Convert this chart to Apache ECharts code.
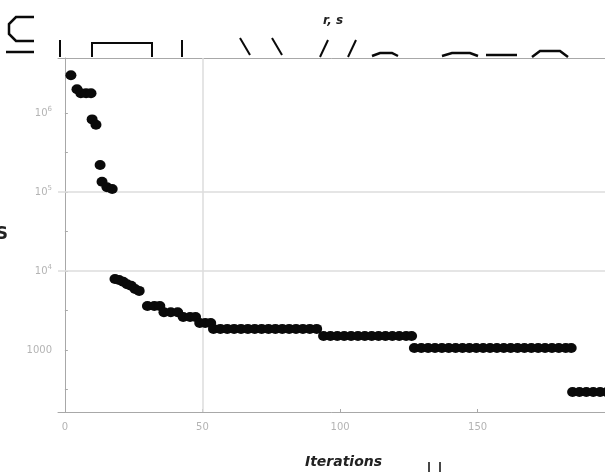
<!DOCTYPE html>
<html>
<head>
<meta charset="utf-8">
<script src="https://cdn.jsdelivr.net/npm/echarts@6/dist/echarts.min.js"></script>
<style>
  html, body { margin: 0; padding: 0; background: #fff; }
  #chart { width: 605px; height: 472px; }
</style>
</head>
<body>
<div id="chart"></div>
<script>
// early points (iteration, S)
const earlyIter = [2.2, 4.4, 5.8, 7.7, 9.5, 9.9, 11.3, 12.8, 13.5, 15.3, 17.2]
const earlyS = [3.0e6, 2.0e6, 1.78e6, 1.78e6, 1.78e6, 8.3e5, 7.1e5, 2.2e5, 1.35e5, 1.15e5, 1.09e5]

// middle staircase
const midIter = [18.2, 19.7, 21.2, 22.6, 24.1, 25.5, 27.0, 30, 32.5, 34.5, 36, 38.5, 41, 43, 45.5, 47.5, 49, 51, 53]
const midS = [7900, 7700, 7300, 6800, 6500, 5900, 5600, 3600, 3600, 3600, 3000, 3000, 3000, 2620, 2620, 2620, 2200, 2200, 2200]

// long flat runs
const plateauS = [1850, 1500, 1060, 294]
const plateauIter = [
  [54, 56.5, 59, 61.5, 64, 66.5, 69, 71.5, 74, 76.5, 79, 81.5, 84, 86.5, 89, 91.5],
  [94, 96.5, 99, 101.5, 104, 106.5, 109, 111.5, 114, 116.5, 119, 121.5, 124, 126],
  [127, 129.5, 132, 134.5, 137, 139.5, 142, 144.5, 147, 149.5, 152, 154.5, 157, 159.5, 162, 164.5, 167, 169.5, 172, 174.5, 177, 179.5, 182, 184],
  [184.5, 187, 189.5, 192, 194.5, 197, 199.5, 202]
]

const xTicks = [0, 50, 100, 150, 200]
const yLabelExp = [3, 4, 5, 6]
const yTickExp = [2.5, 3, 3.5, 4, 4.5, 5, 5.5, 6, 6.5]

let points = []
earlyIter.forEach((x, i) => points.push([x, Math.log10(earlyS[i])]))
midIter.forEach((x, i) => points.push([x, Math.log10(midS[i])]))
plateauIter.forEach((xs, k) => {
  xs.forEach(x => points.push([x, Math.log10(plateauS[k])]))
})

let myChart = echarts.init(document.getElementById('chart'))

const grey = '#a8a8a8'
const labelGrey = '#b4b4b4'
const ink = '#0a0a0a'

// bits of the figure above that show at the top of the scan
function stroke(pts, w) {
  return { type: 'polyline', shape: { points: pts }, style: { stroke: ink, lineWidth: w || 2, fill: null } }
}

let options = {
  animation: false,
  backgroundColor: '#fff',
  grid: {
    left: 58,
    top: 58,
    width: 571,
    height: 354,
    outerBoundsMode: 'none',
    containLabel: false,
    show: false
  },
  xAxis: [
    {
      type: 'value',
      min: -2.5,
      max: 205,
      name: 'Iterations',
      nameLocation: 'middle',
      nameGap: 43,
      nameTextStyle: { fontFamily: 'DejaVu Sans', fontSize: 14, fontWeight: 'bold', fontStyle: 'italic', color: '#222' },
      axisLine: { lineStyle: { color: grey } },
      axisTick: { inside: true, length: 3, lineStyle: { color: grey }, customValues: xTicks },
      axisLabel: { customValues: xTicks, color: labelGrey, fontSize: 10, margin: 10, fontFamily: 'DejaVu Sans', hideOverlap: false },
      splitLine: { show: false }
    },
    {
      // top frame edge
      type: 'value',
      position: 'top',
      min: -2.5,
      max: 205,
      axisLine: { show: true, lineStyle: { color: grey } },
      axisTick: { show: false },
      axisLabel: { show: false },
      splitLine: { show: false }
    }
  ],
  yAxis: {
    type: 'value',
    min: 2.215,
    max: 6.696,
    name: 'S',
    nameLocation: 'middle',
    nameGap: 50,
    nameRotate: 0,
    nameTextStyle: { fontFamily: 'DejaVu Sans', fontSize: 17, fontWeight: 'bold', color: '#222' },
    axisLine: { show: true, lineStyle: { color: grey } },
    axisTick: { show: true, inside: true, length: 3, lineStyle: { color: grey }, customValues: yTickExp },
    axisLabel: {
      customValues: yLabelExp,
      color: labelGrey,
      fontSize: 10,
      margin: 6,
      fontFamily: 'DejaVu Sans',
      formatter: v => v === 3 ? '1000' : '10{sup|' + v + '}',
      rich: { sup: { fontSize: 7, color: labelGrey, padding: [0, 0, 7, 0] } }
    },
    splitLine: { show: false }
  },
  series: [
    {
      type: 'scatter',
      data: points,
      symbol: 'circle',
      symbolSize: [11, 10],
      itemStyle: { color: ink, opacity: 1 },
      silent: true,
      markLine: {
        silent: true,
        symbol: 'none',
        label: { show: false },
        lineStyle: { color: '#dcdcdc', type: 'solid', width: 1.5 },
        data: [{ xAxis: 50 }, { yAxis: 5 }, { yAxis: 4 }],
        z: 1
      }
    }
  ],
  graphic: [
    stroke([[34, 17], [16, 17], [9, 24], [9, 34], [16, 41], [34, 41]], 2.5),
    stroke([[6, 52], [34, 52]], 2.5),
    stroke([[60, 40], [60, 57]]),
    stroke([[92, 57], [92, 43], [152, 43], [152, 57]]),
    stroke([[182, 40], [182, 57]]),
    stroke([[240, 38], [250, 55]]),
    stroke([[272, 38], [282, 55]]),
    stroke([[328, 40], [320, 57]]),
    stroke([[356, 40], [348, 57]]),
    stroke([[372, 56], [380, 53], [392, 53], [398, 56]], 2.5),
    stroke([[442, 56], [452, 53], [470, 53], [478, 56]], 2.5),
    stroke([[486, 55], [517, 55]], 2.5),
    stroke([[532, 57], [540, 51], [560, 51], [568, 57]], 2.5),
    stroke([[429, 462], [429, 472]], 1.5),
    stroke([[440, 462], [440, 472]], 1.5),
    {
      type: 'text',
      left: 323,
      top: 15,
      style: { text: 'r, s', font: 'italic bold 12px DejaVu Sans', fill: '#222' }
    }
  ]
}

myChart.setOption(options)
</script>
</body>
</html>
